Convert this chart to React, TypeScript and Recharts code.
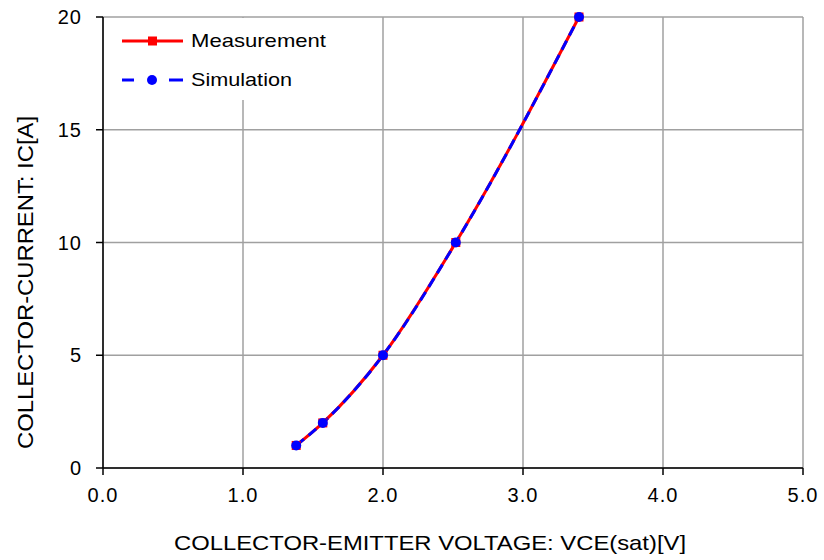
import React from "react";
import {
  LineChart,
  Line,
  XAxis,
  YAxis,
  CartesianGrid,
  Label,
} from "recharts";

// VCE(sat) [V] vs IC [A]
const vce = [1.38, 1.57, 2.0, 2.52, 3.4];
const measurement = [1, 2, 5, 10, 20];
const simulation = [1, 2, 5, 10, 20];

const xTicks = [0, 1, 2, 3, 4, 5];
const yTicks = [0, 5, 10, 15, 20];

const data = vce.map((v, i) => ({ vce: v, meas: measurement[i], sim: simulation[i] }));

const FONT = '"Liberation Sans", Arial, sans-serif';

const SquareDot = (props: any) => {
  const { cx, cy } = props;
  if (cx == null || cy == null) return null;
  return <rect x={cx - 4.5} y={cy - 4.5} width={9} height={9} fill="#ff0000" />;
};

const RoundDot = (props: any) => {
  const { cx, cy } = props;
  if (cx == null || cy == null) return null;
  return <circle cx={cx} cy={cy} r={5} fill="#0000ff" />;
};

function LegendBox() {
  return (
    <div style={{ position: "absolute", left: 104, top: 18, background: "#fff", width: 236, height: 82 }}>
      <svg width={236} height={82}>
        <line x1={18} y1={23} x2={79} y2={23} stroke="#ff0000" strokeWidth={3} />
        <rect x={44} y={18.5} width={9} height={9} fill="#ff0000" />
        <text x={87} y={29} fontSize={19} fontFamily={FONT} textLength={135} lengthAdjust="spacingAndGlyphs">
          Measurement
        </text>
        <line x1={18} y1={62} x2={30} y2={62} stroke="#0000ff" strokeWidth={3} />
        <line x1={65} y1={62} x2={79} y2={62} stroke="#0000ff" strokeWidth={3} />
        <circle cx={48} cy={62} r={5} fill="#0000ff" />
        <text x={87} y={68} fontSize={19} fontFamily={FONT} textLength={101} lengthAdjust="spacingAndGlyphs">
          Simulation
        </text>
      </svg>
    </div>
  );
}

export default function App() {
  return (
    <div style={{ position: "absolute", left: 0, top: 0, background: "#fff", width: 824, height: 560 }}>
      <LineChart
        width={824}
        height={560}
        data={data}
        margin={{ top: 17, right: 21, bottom: 0, left: 0 }}
        style={{ fontFamily: FONT }}
      >
        <CartesianGrid stroke="#a0a0a0" strokeWidth={1.5} />
        <XAxis
          dataKey="vce"
          type="number"
          domain={[0, 5]}
          ticks={xTicks}
          tickFormatter={(v: number) => v.toFixed(1)}
          height={92}
          stroke="#000"
          strokeWidth={1.5}
          tickSize={7}
          tickMargin={13}
          tick={{ fill: "#000", fontSize: 20, fontFamily: FONT, letterSpacing: 1 }}
        >
          <Label
            position="insideBottom"
            content={(p: any) => {
              const vb = p.viewBox || {};
              const cx = vb.x + vb.width / 2 - 23;
              const cy = vb.y + vb.height - 10;
              return (
                <text
                  x={cx}
                  y={cy}
                  textAnchor="middle"
                  fill="#000"
                  fontSize={21}
                  fontFamily={FONT}
                  textLength={512}
                  lengthAdjust="spacingAndGlyphs"
                >
                  COLLECTOR-EMITTER VOLTAGE: VCE(sat)[V]
                </text>
              );
            }}
          />
        </XAxis>
        <YAxis
          type="number"
          domain={[0, 20]}
          ticks={yTicks}
          width={103}
          stroke="#000"
          strokeWidth={1.5}
          tickSize={7}
          tickMargin={14}
          tick={{ fill: "#000", fontSize: 20, fontFamily: FONT, letterSpacing: 1 }}
        >
          <Label
            position="insideLeft"
            content={(p: any) => {
              const vb = p.viewBox || {};
              const cx = vb.x + 33;
              const cy = vb.y + vb.height / 2 + 40;
              return (
                <text
                  x={cx}
                  y={cy}
                  transform={`rotate(-90, ${cx}, ${cy})`}
                  textAnchor="middle"
                  fill="#000"
                  fontSize={22}
                  fontFamily={FONT}
                  textLength={333}
                  lengthAdjust="spacingAndGlyphs"
                >
                  COLLECTOR-CURRENT: IC[A]
                </text>
              );
            }}
          />
        </YAxis>
        <Line
          type="monotone"
          dataKey="meas"
          name="Measurement"
          stroke="#ff0000"
          strokeWidth={3}
          dot={<SquareDot />}
          activeDot={false}
          isAnimationActive={false}
        />
        <Line
          type="monotone"
          dataKey="sim"
          name="Simulation"
          stroke="#0000ff"
          strokeWidth={3}
          strokeDasharray="10 6"
          dot={<RoundDot />}
          activeDot={false}
          isAnimationActive={false}
        />
      </LineChart>
      <LegendBox />
    </div>
  );
}
